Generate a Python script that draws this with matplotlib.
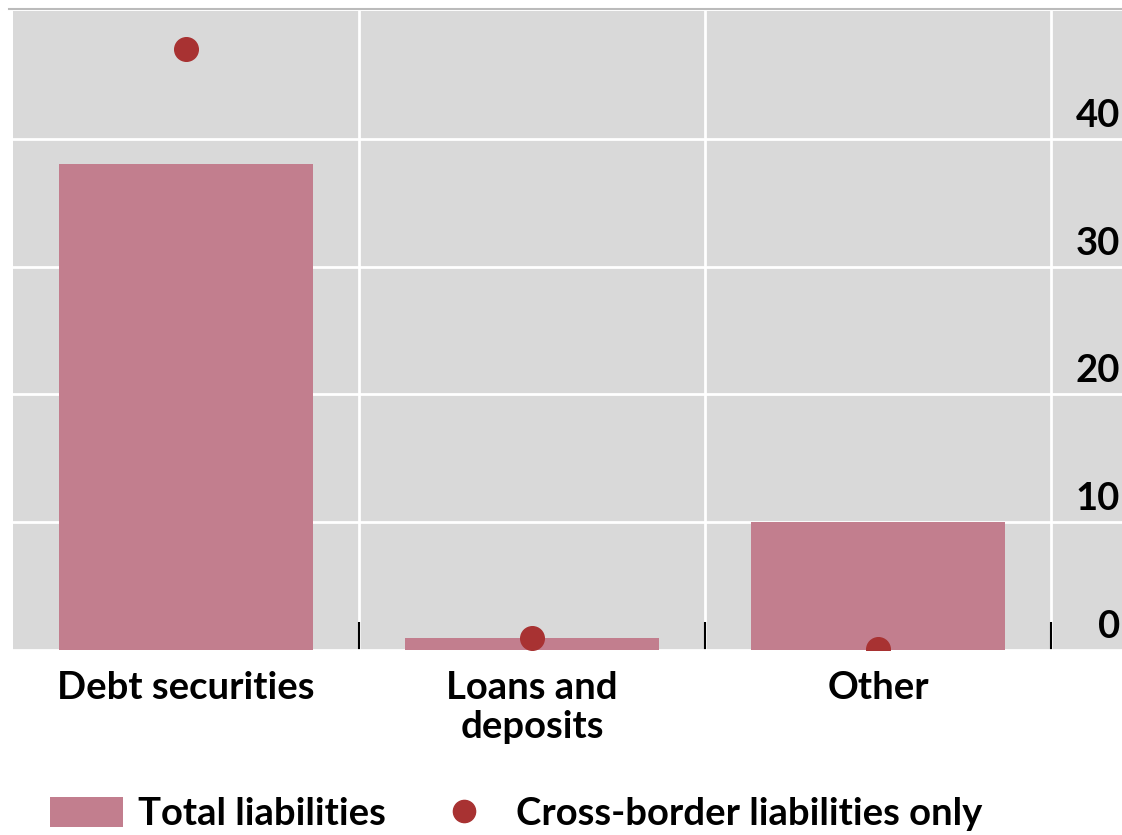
import matplotlib
matplotlib.use("Agg")
import matplotlib.pyplot as plt
from matplotlib.patches import Patch
from matplotlib.lines import Line2D
import matplotlib.transforms as mtrans

categories = ["Debt securities", "Loans and\ndeposits", "Other"]
total_liabilities = [38.0, 0.9, 10.0]
cross_border = [47.0, 0.9, 0.1]
yticks = [0, 10, 20, 30, 40]

plt.rcParams['font.family'] = ['Lato', 'DejaVu Sans']
FS = 27.5
FW = 'bold'

fig = plt.figure(figsize=(11.22, 8.35), dpi=100)
ax = fig.add_axes([13/1122, 1-650/835, 1-13/1122, (650-11)/835])
ax.set_facecolor('#D9D9D9')

x = list(range(len(categories)))
ax.bar(x, total_liabilities, width=0.735, color='#C27E8E', zorder=2)
ax.plot(x, cross_border, 'o', color='#A83232', markersize=17, zorder=3, clip_on=True)

ax.set_xlim(-0.5, 2.705)
ax.set_ylim(0, 50)

for s in ax.spines.values():
    s.set_visible(False)

# horizontal gridlines
ax.set_yticks(yticks)
ax.yaxis.grid(True, color='white', linewidth=2)
ax.tick_params(axis='y', length=0, labelleft=False)
# vertical separators (minor grid) with inward black ticks
seps = [i + 0.5 for i in range(len(categories))]
ax.set_xticks(seps, minor=True)
ax.xaxis.grid(True, which='minor', color='white', linewidth=2)
ax.tick_params(axis='x', which='minor', direction='in', length=20, width=1.5, color='black')
ax.set_xticks(x)
ax.set_xticklabels(categories, fontsize=FS, fontweight=FW, linespacing=1.2)
ax.tick_params(axis='x', which='major', length=0, pad=15)
ax.set_axisbelow(True)

# y labels inside right side
trans = mtrans.blended_transform_factory(ax.transAxes, ax.transData)
off = mtrans.offset_copy(trans, fig=fig, x=-2, y=6, units='dots')
for v in yticks:
    ax.text(1.0, v, str(v), transform=off, ha='right', va='bottom', fontsize=FS, fontweight=FW)

# top thin line
fig.add_artist(Line2D([9/1122, 1], [1-9/835, 1-9/835], color='#BBBBBB', linewidth=1.5))

handles = [Patch(facecolor='#C27E8E', edgecolor='none', label='Total liabilities'),
           Line2D([], [], marker='o', linestyle='none', color='#A83232', markersize=16,
                  label='Cross-border liabilities only')]
fig.legend(handles=handles, loc='center left', bbox_to_anchor=(50/1122, 1-814/835),
           ncol=2, frameon=False, prop={'size': FS, 'weight': FW},
           handlelength=1.9, handleheight=0.84, borderpad=0, borderaxespad=0,
           columnspacing=1.1, handletextpad=0.4)

fig.savefig('out.png', dpi=100)
